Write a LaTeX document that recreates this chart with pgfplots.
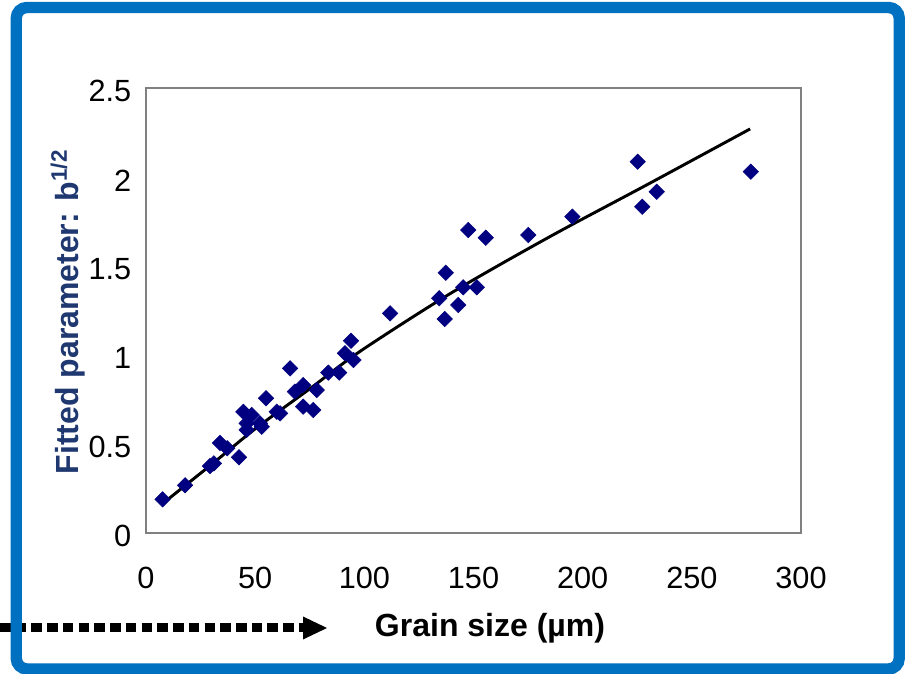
\documentclass[border=0pt]{standalone}
\usepackage{pgfplots}
\pgfplotsset{compat=1.18}
\usepackage{fontspec}
\setmainfont{Liberation Sans}
\definecolor{frameblue}{RGB}{0,112,192}
\definecolor{labelblue}{RGB}{31,56,112}
\definecolor{navy}{RGB}{0,0,128}
\begin{document}
\begin{tikzpicture}[x=0.75pt,y=0.75pt]
\useasboundingbox (0,0) rectangle (908,674);
\fill[white] (0,0) rectangle (908,674);
\begin{axis}[
  at={(109.5pt,105.75pt)}, anchor=south west,
  scale only axis, width=491.25pt, height=333.75pt,
  xmin=0, xmax=300, ymin=0, ymax=2.5,
  xtick={0,50,...,300}, ytick={0,0.5,...,2.5},
  major tick length=0pt,
  axis line style={draw=black!50, line width=1pt},
  tick label style={font=\fontsize{23}{27}\selectfont},
  /pgf/number format/assume math mode=true,
  xticklabel style={yshift=-22pt},
  yticklabel style={xshift=-7.5pt, yshift=-2.5pt},
  clip=false,
]
\addplot[black, line width=2.2pt, smooth, no marks] coordinates {
(7.6,0.165) (30,0.385) (50,0.585) (75,0.81) (98,1.02) (140,1.35) (185,1.665) (230,1.96) (276.7,2.27)
};
\addplot[only marks, mark=square*, mark size=4.1pt, mark options={rotate=45, fill=navy, draw=navy}] table {
x y
7.6 0.189
17.9 0.268
29.3 0.376
31.1 0.391
33.9 0.506
37.2 0.476
42.6 0.425
44.6 0.681
46.1 0.579
46.1 0.616
48.4 0.663
52.2 0.616
53.0 0.597
55.0 0.757
59.9 0.681
61.4 0.672
66.0 0.925
68.2 0.794
72.0 0.831
72.0 0.710
76.6 0.691
78.2 0.803
83.5 0.901
88.5 0.901
91.1 1.010
93.9 1.080
95.0 0.972
111.8 1.234
134.3 1.319
137.3 1.462
136.8 1.202
143.0 1.281
145.3 1.380
151.5 1.380
147.6 1.702
155.6 1.659
175.1 1.674
195.3 1.777
225.2 2.086
227.3 1.833
233.9 1.917
277.0 2.030
};
\end{axis}
\node[rotate=90, text=labelblue, font=\fontsize{24}{28}\selectfont\bfseries] at (68,362) {Fitted parameter: b\textsuperscript{1/2}};
\node[font=\fontsize{24}{28}\selectfont\bfseries] at (490,46) {Grain size (µm)};
\draw[black, line width=6.75pt, dash pattern=on 7.9pt off 3.9pt] (0,46) -- (304,46);
\fill[black] (303,57.5) -- (327,46) -- (303,34.5) -- cycle;
\draw[frameblue, line width=8.5pt, rounded corners=8pt] (16.25,666.5) rectangle (899.25,5);
\end{tikzpicture}
\end{document}
